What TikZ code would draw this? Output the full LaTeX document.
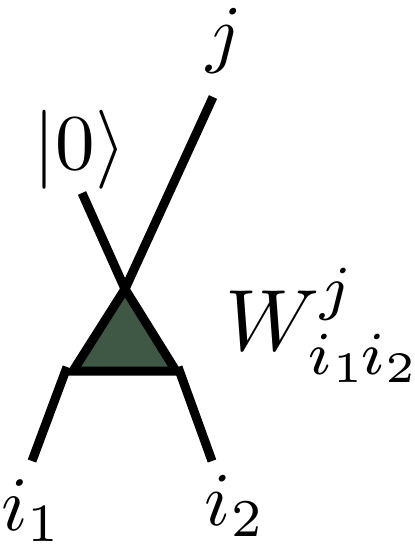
\documentclass[tikz,border=0pt]{standalone}
\definecolor{trifill}{RGB}{63,87,69}
\tikzset{
  wire/.style={line width=9pt, line cap=butt},
  tensor/.style={line width=9pt, line join=miter, fill=trifill},
  lbl/.style={inner sep=0pt, anchor=base},
}
\begin{document}
\begin{tikzpicture}[x=1pt,y=-1pt]
\useasboundingbox (0,0) rectangle (415,549);
% coordinates
\coordinate (jt) at (213,97);
\coordinate (zt) at (82,193);
\coordinate (apex) at (125,289);
\coordinate (bl) at (73,371);
\coordinate (br) at (176,371);
\coordinate (l1t) at (67,367);
\coordinate (l1b) at (32,461);
\coordinate (l2t) at (178,367);
\coordinate (l2b) at (212,461);
% triangle
\draw[tensor] (apex) -- (bl) -- (br) -- cycle;
% wires
\draw[wire] (jt) -- (apex);
\draw[wire] (zt) -- (apex);
\draw[wire] (l1t) -- (l1b);
\draw[wire] (l2t) -- (l2b);
% labels
\node[lbl, scale=7.6] (jl) at (224,58) {$j$};
\node[lbl, scale=7.9] (zl) at (80,169) {$|0\rangle$};
\node[lbl, scale=7.7] (i1l) at (32,530) {$i_1$};
\node[lbl, scale=7.6] (i2l) at (235,525) {$i_2$};
\node[lbl, anchor=base west, scale=8.7] (wl) at (224,350) {$W^{j}_{i_1\mkern-1.5mu i_2}$};
\end{tikzpicture}
\end{document}
